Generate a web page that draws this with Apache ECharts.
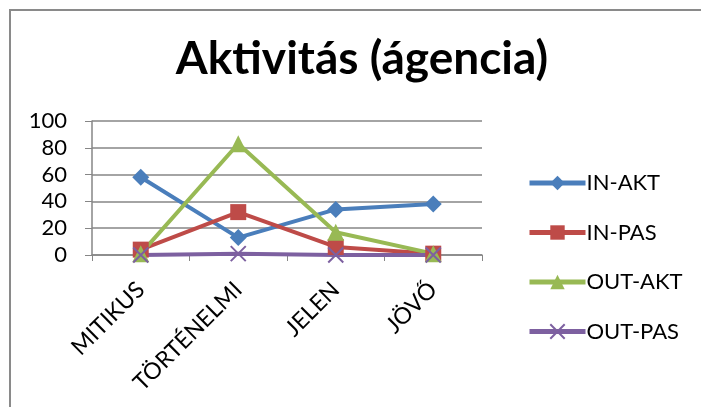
<!DOCTYPE html>
<html><head><meta charset="utf-8">
<script src="https://cdn.jsdelivr.net/npm/echarts@6/dist/echarts.min.js"></script>
<style>html,body{margin:0;padding:0;background:#fff}#c{width:701px;height:407px}</style>
</head><body><div id="c"></div>
<script>
const categories = ['MITIKUS', 'TÖRTÉNELMI', 'JELEN', 'JÖVŐ'];
const inAkt = [58, 13, 34, 38];
const inPas = [4, 32, 6, 1];
const outAkt = [1, 83, 17, 1];
const outPas = [0, 1, 0, 0];
const yTicks = [0, 20, 40, 60, 80, 100];
const FONT = 'Lato, "Liberation Sans", sans-serif';

const chart = echarts.init(document.getElementById('c'));
function ser(name, data, color, symbol, size, extra) {
  return Object.assign({
    name, type: 'line', data, symbol, symbolSize: size,
    lineStyle: { color, width: 4 },
    itemStyle: { color },
    emphasis: { disabled: true }
  }, extra || {});
}
chart.setOption({
  animation: false,
  title: { text: 'Aktivitás (ágencia)', left: 357, top: 31, textAlign: 'center',
    textStyle: { fontFamily: FONT, fontWeight: 'bold', fontSize: 46, color: '#000' } },
  graphic: [{ type: 'rect', shape: { x: 10, y: 10, width: 720, height: 420 },
    style: { fill: 'none', stroke: '#8a8a8a', lineWidth: 2 }, silent: true }],
  legend: {
    orient: 'vertical', left: 522, top: 167, itemWidth: 56, itemHeight: 18, itemGap: 27.5,
    lineStyle: { width: 5 },
    textStyle: { fontFamily: FONT, fontSize: 22, lineHeight: 20, color: '#000', padding: [0, 0, 0, -4] },
    data: ['IN-AKT', 'IN-PAS', 'OUT-AKT', 'OUT-PAS']
  },
  grid: { left: 92, right: 219, top: 121, bottom: 152 },
  xAxis: {
    type: 'category', data: categories, boundaryGap: true,
    axisLine: { lineStyle: { color: '#868686', width: 1.5 } },
    axisTick: { show: true, length: 6, lineStyle: { color: '#868686' } },
    axisLabel: { rotate: 45, margin: 31, fontFamily: FONT, fontSize: 23, color: '#000' }
  },
  yAxis: {
    type: 'value', min: yTicks[0], max: yTicks[yTicks.length - 1], interval: 20,
    axisLine: { show: true, lineStyle: { color: '#868686', width: 1.5 } },
    axisTick: { show: true, length: 7, lineStyle: { color: '#868686' } },
    splitLine: { lineStyle: { color: '#868686', width: 1.5 } },
    axisLabel: { margin: 25, fontFamily: FONT, fontSize: 22, color: '#000' }
  },
  series: [
    ser('IN-AKT', inAkt, '#4A7EBB', 'diamond', 17),
    ser('IN-PAS', inPas, '#BE4B48', 'rect', 16),
    ser('OUT-AKT', outAkt, '#98B954', 'triangle', 17),
    ser('OUT-PAS', outPas, '#7D60A0', 'path://M0,0L10,10M10,0L0,10', 15,
      { itemStyle: { color: 'none', borderColor: '#7D60A0', borderWidth: 2 } })
  ]
});
</script></body></html>
